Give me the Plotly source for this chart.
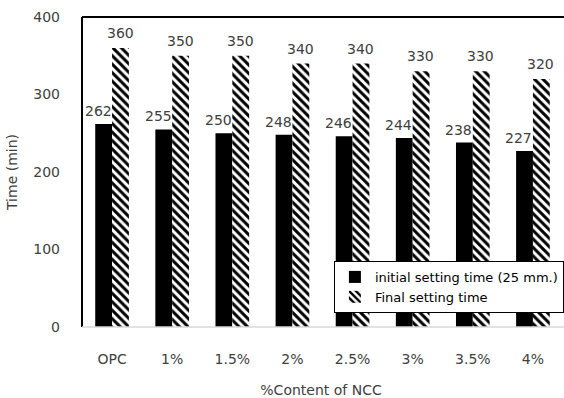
import plotly.graph_objects as go

categories = ["OPC", "1%", "1.5%", "2%", "2.5%", "3%", "3.5%", "4%"]
initial_setting = [262, 255, 250, 248, 246, 244, 238, 227]
final_setting = [360, 350, 350, 340, 340, 330, 330, 320]
y_ticks = [0, 100, 200, 300, 400]

FONT = "DejaVu Sans"
TXT = "#404040"

fig = go.Figure()
fig.add_trace(go.Bar(
    x=categories, y=initial_setting, name="initial setting time (25 mm.)",
    marker=dict(color="black", line=dict(width=0)),
))
fig.add_trace(go.Bar(
    x=categories, y=final_setting, name="Final setting time",
    marker=dict(color="white", line=dict(width=0),
                pattern=dict(shape="\\", fgcolor="black", bgcolor="white",
                             size=6, solidity=0.5, fillmode="replace")),
))

# data labels
for c, v in zip(categories, initial_setting):
    fig.add_annotation(x=c, y=v, text=str(v), showarrow=False, xref="x", yref="y",
                       xshift=-14, yshift=3, yanchor="bottom",
                       font=dict(family=FONT, size=14, color=TXT))
for c, v in zip(categories, final_setting):
    fig.add_annotation(x=c, y=v, text=str(v), showarrow=False, xref="x", yref="y",
                       xshift=8, yshift=5, yanchor="bottom",
                       font=dict(family=FONT, size=14, color=TXT))

fig.update_layout(
    width=564, height=398,
    margin=dict(l=82, r=0, t=17, b=71),
    paper_bgcolor="white", plot_bgcolor="white",
    barmode="group", bargap=0.44, bargroupgap=0,
    font=dict(family=FONT, size=14, color=TXT),
    showlegend=True,
    legend=dict(x=0.527, y=0.213, xanchor="left", yanchor="top",
                bgcolor="white", bordercolor="black", borderwidth=1,
                font=dict(family=FONT, size=13, color="black"),
                tracegroupgap=0, itemwidth=30),
    xaxis=dict(range=[-0.5, 7.45], showgrid=False, showline=False,
               ticks="", tickfont=dict(size=14, color=TXT), ticklabelstandoff=22,
               title=dict(text="%Content of NCC", font=dict(size=14, color=TXT), standoff=21)),
    yaxis=dict(range=[0, 400], tickvals=y_ticks, showgrid=False, showline=False,
               zeroline=False, ticks="", tickfont=dict(size=14, color=TXT),
               ticklabelstandoff=21,
               title=dict(text="Time (min)", font=dict(size=14, color=TXT), standoff=12)),
)

# plot-area frame: black left/top, grey bottom
fig.add_shape(type="line", xref="paper", yref="paper", x0=0, x1=0, y0=0, y1=1,
              line=dict(color="black", width=2))
fig.add_shape(type="line", xref="paper", yref="paper", x0=0, x1=1.02, y0=1, y1=1,
              line=dict(color="black", width=2))
fig.add_shape(type="line", xref="paper", yref="paper", x0=0, x1=1.02, y0=0, y1=0,
              line=dict(color="#d9d9d9", width=1.5))

fig.write_html("out.html")
